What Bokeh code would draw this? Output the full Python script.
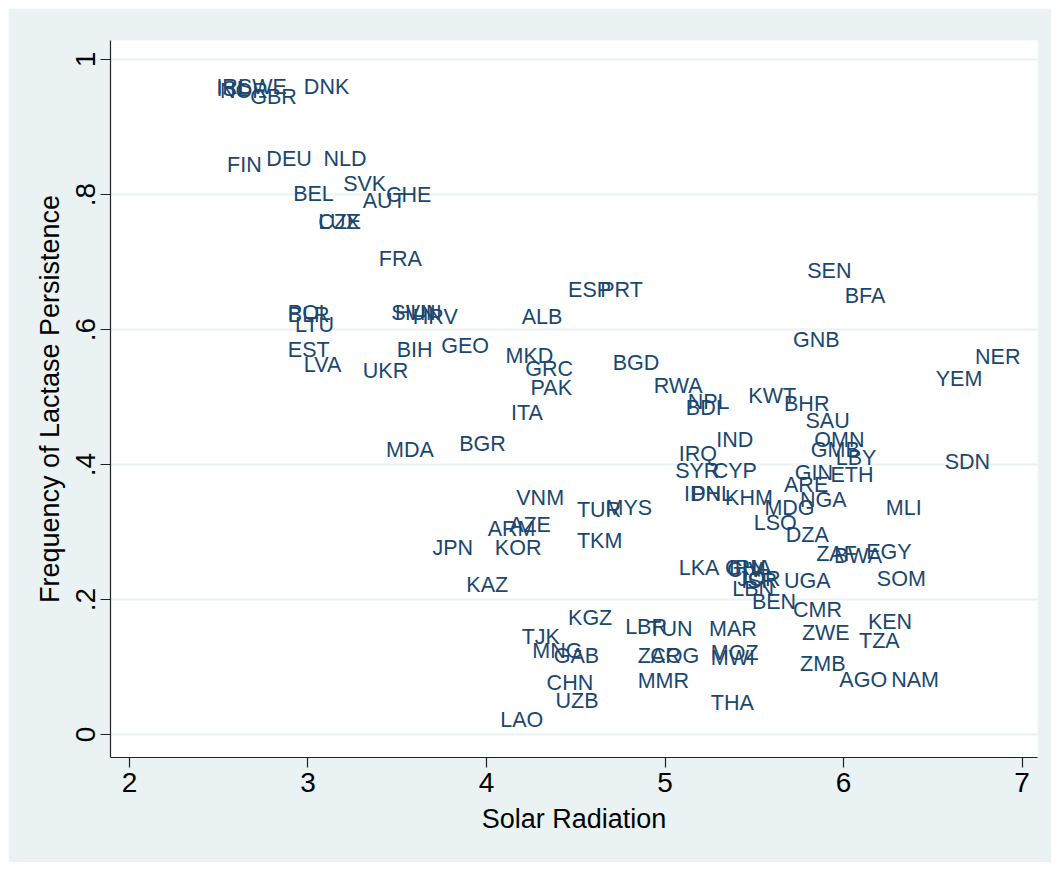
from bokeh.plotting import figure
from bokeh.models import ColumnDataSource, FixedTicker, Range1d
from bokeh.core.properties import value
from bokeh.embed import file_html
from bokeh.resources import INLINE

# ---- data ----
codes = ["IRL", "ISL", "NOR", "SWE", "GBR", "DNK", "FIN", "DEU", "NLD", "SVK",
         "BEL", "AUT", "CHE", "CZE", "LUX", "FRA", "POL", "BLR", "LTU", "EST",
         "LVA", "UKR", "BIH", "SVN", "HUN", "HRV", "GEO", "ESP", "PRT", "ALB",
         "MKD", "GRC", "PAK", "ITA", "BGD", "BGR", "MDA", "RWA", "NPL", "BDI",
         "KWT", "BHR", "SAU", "IND", "IRQ", "SYR", "CYP", "IDN", "PHL", "KHM",
         "MDG", "LSO", "DZA", "OMN", "GMB", "LBY", "ETH", "GIN", "ARE", "NGA",
         "MLI", "TUR", "MYS", "VNM", "AZE", "ARM", "KOR", "JPN", "TKM", "KAZ",
         "LKA", "GHA", "CIV", "IRN", "JOR", "ISR", "LBN", "UGA", "BEN", "CMR",
         "ZWE", "ZMB", "MAR", "MOZ", "MWI", "THA", "AGO", "NAM", "KEN", "TZA",
         "SOM", "EGY", "ZAF", "BWA", "KGZ", "LBR", "TUN", "TJK", "MNG", "GAB",
         "ZAR", "COG", "MMR", "CHN", "UZB", "LAO", "SEN", "BFA", "GNB", "NER",
         "YEM", "SDN"]

solar = [2.47, 2.47, 2.49, 2.59, 2.66, 2.96, 2.53, 2.75, 3.07, 3.18,
         2.90, 3.29, 3.42, 3.04, 3.04, 3.38, 2.87, 2.87, 2.91, 2.87,
         2.96, 3.29, 3.48, 3.45, 3.47, 3.57, 3.73, 4.44, 4.62, 4.18,
         4.09, 4.20, 4.23, 4.12, 4.69, 3.83, 3.42, 4.92, 5.11, 5.10,
         5.45, 5.65, 5.77, 5.27, 5.06, 5.04, 5.25, 5.09, 5.13, 5.32,
         5.54, 5.48, 5.66, 5.82, 5.80, 5.94, 5.91, 5.71, 5.65, 5.74,
         6.22, 4.49, 4.65, 4.15, 4.11, 3.99, 4.03, 3.68, 4.49, 3.87,
         5.06, 5.32, 5.33, 5.34, 5.39, 5.41, 5.36, 5.65, 5.47, 5.70,
         5.75, 5.74, 5.23, 5.24, 5.24, 5.24, 5.96, 6.25, 6.12, 6.07,
         6.17, 6.11, 5.83, 5.93, 4.44, 4.76, 4.89, 4.18, 4.24, 4.36,
         4.83, 4.90, 4.83, 4.32, 4.37, 4.06, 5.78, 5.99, 5.70, 6.72,
         6.50, 6.55]

lactase = [0.959, 0.956, 0.954, 0.959, 0.944, 0.959, 0.844, 0.853, 0.853, 0.815,
           0.801, 0.791, 0.799, 0.759, 0.759, 0.705, 0.624, 0.621, 0.607, 0.569,
           0.547, 0.539, 0.569, 0.625, 0.624, 0.619, 0.575, 0.658, 0.658, 0.619,
           0.561, 0.542, 0.513, 0.476, 0.550, 0.430, 0.421, 0.516, 0.493, 0.484,
           0.501, 0.490, 0.465, 0.437, 0.416, 0.391, 0.390, 0.357, 0.357, 0.351,
           0.336, 0.314, 0.295, 0.436, 0.422, 0.410, 0.385, 0.387, 0.370, 0.348,
           0.335, 0.332, 0.336, 0.351, 0.310, 0.304, 0.276, 0.276, 0.286, 0.222,
           0.247, 0.246, 0.243, 0.246, 0.230, 0.227, 0.216, 0.227, 0.196, 0.184,
           0.150, 0.105, 0.157, 0.120, 0.113, 0.046, 0.080, 0.080, 0.167, 0.138,
           0.230, 0.271, 0.268, 0.264, 0.173, 0.159, 0.157, 0.144, 0.123, 0.117,
           0.116, 0.116, 0.079, 0.076, 0.050, 0.021, 0.686, 0.650, 0.584, 0.559,
           0.527, 0.404]

x_ticks = [2, 3, 4, 5, 6, 7]
y_ticks = [0, 0.2, 0.4, 0.6, 0.8, 1]
y_tick_labels = ["0", ".2", ".4", ".6", ".8", "1"]

BG = "#EAF2F3"
NAVY = "#1A476F"
FONT = "Liberation Sans"

p = figure(width=1043, height=854, output_backend="svg", toolbar_location=None,
           x_range=Range1d(1.8936, 7.0868), y_range=Range1d(-0.0341, 1.0281),
           min_border_left=102, min_border_right=14, min_border_top=32,
           min_border_bottom=105, background_fill_color="white",
           border_fill_color=BG, outline_line_color=None)
p.margin = (8, 8, 8, 8)

src = ColumnDataSource(dict(x=solar, y=lactase, code=codes))
p.text(x="x", y="y", text="code", source=src, x_offset=3,
       text_align="left", text_baseline="middle",
       text_font=value(FONT), text_font_size="21.5px", text_color=NAVY)

p.xaxis.ticker = FixedTicker(ticks=x_ticks)
p.yaxis.ticker = FixedTicker(ticks=y_ticks)
p.ygrid.ticker = FixedTicker(ticks=y_ticks)
p.yaxis.major_label_overrides = {t: l for t, l in zip(y_ticks, y_tick_labels)}
p.xgrid.visible = False
p.ygrid.grid_line_color = BG
p.ygrid.grid_line_width = 2

for ax in (p.xaxis, p.yaxis):
    ax.axis_line_color = "#222222"
    ax.axis_line_width = 1.2
    ax.major_tick_line_color = "#222222"
    ax.major_tick_line_width = 1.2
    ax.major_tick_out = 10
    ax.major_tick_in = 0
    ax.minor_tick_line_color = None
    ax.major_label_text_font = FONT
    ax.major_label_text_font_size = "28px"
    ax.major_label_text_color = "black"
    ax.major_label_standoff = 5
    ax.axis_label_text_font = FONT
    ax.axis_label_text_font_size = "27px"
    ax.axis_label_text_font_style = "normal"
    ax.axis_label_text_color = "black"
    ax.axis_label_standoff = 9

p.xaxis.axis_label = "Solar Radiation"
p.yaxis.axis_label = "Frequency of Lactase Persistence"
p.yaxis.major_label_orientation = "vertical"

open("out.html", "w").write(file_html(p, INLINE))
